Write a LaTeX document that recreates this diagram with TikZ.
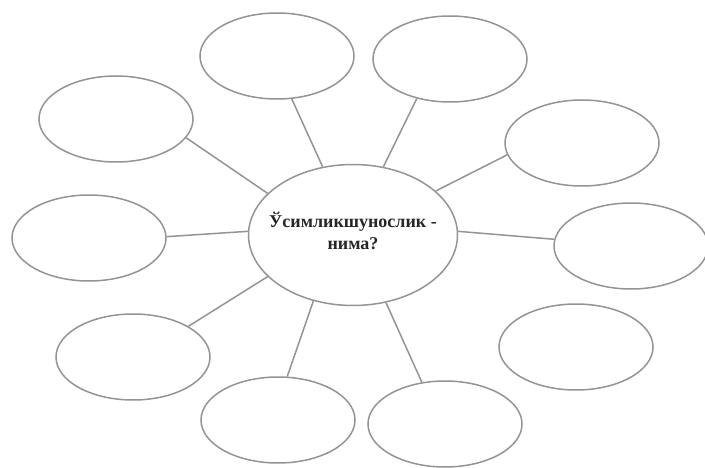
\documentclass[tikz,border=0pt]{standalone}
\usepackage{fontspec}
\setmainfont{Liberation Serif}
\usetikzlibrary{shapes.geometric}
\definecolor{rim}{gray}{0.58}
\begin{document}
\begin{tikzpicture}[x=1pt, y=-1pt,
            hub/.style={ellipse, draw=rim, line width=1.5pt, minimum width=209pt, minimum height=141pt, inner sep=0pt},
            leaf/.style={ellipse, draw=rim, line width=1.5pt, minimum width=154pt, minimum height=86pt, inner sep=0pt},
            link/.style={draw=rim, line width=1.5pt}
            ]
            \useasboundingbox (0,0) rectangle (705,468);
            \node[hub, label={[align=center, text=black!85, yshift=4pt, font=\fontsize{18}{22}\selectfont\bfseries]center:{Ўсимликшунослик -\\нима?}}] (m) at (353,235) {};
            \node[leaf] (a) at (277,56) {};
            \node[leaf] (b) at (450,59) {};
            \node[leaf] (c) at (116,119) {};
            \node[leaf] (d) at (582,143) {};
            \node[leaf] (e) at (89,238) {};
            \node[leaf] (f) at (631,246) {};
            \node[leaf] (g) at (133,357) {};
            \node[leaf] (h) at (278,420) {};
            \node[leaf] (i) at (445,424) {};
            \node[leaf] (j) at (576,347) {};

            \draw[link] (m.114)--(a.-71);
            \draw[link] (m.66)--(b.-130);
            \draw[link] (m.154)--(c.-15);
            \draw[link] (m.28)--(d.189);
            \draw[link] (m.178)--(e.1);
            \draw[link] (m.2)--(f.175);
            \draw[link] (m.206)--(g.29);
            \draw[link] (m.-121)--(h.78);
            \draw[link] (m.-64)--(i.119);
            \end{tikzpicture}
\end{document}
